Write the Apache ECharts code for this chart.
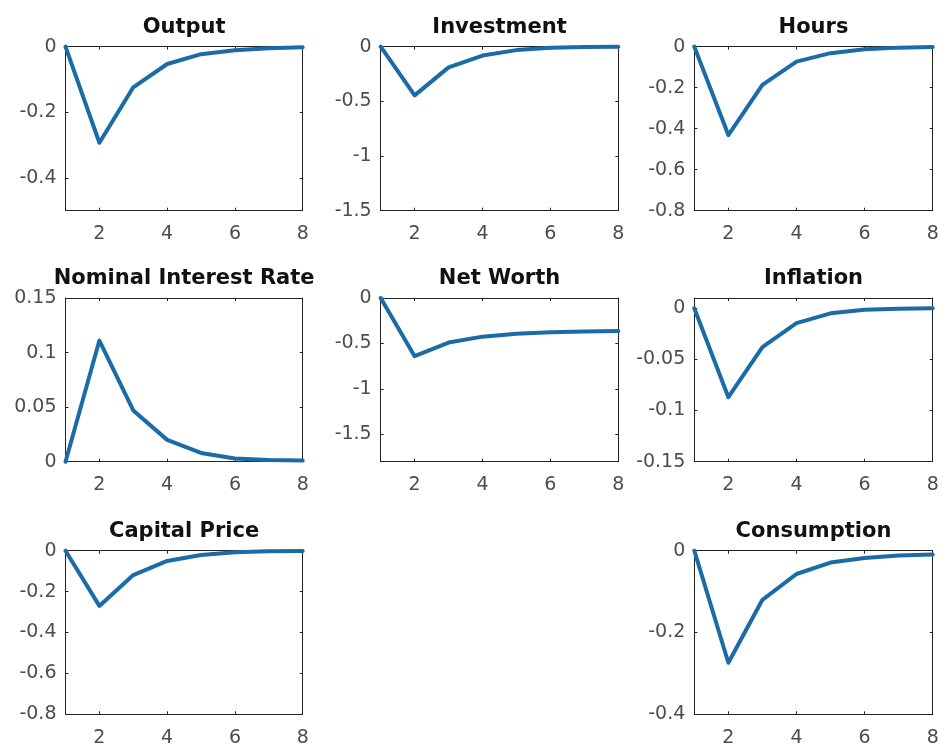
<!DOCTYPE html>
<html>
<head>
<meta charset="utf-8">
<script src="https://cdn.jsdelivr.net/npm/echarts@6/dist/echarts.min.js"></script>
<style>
  html, body { margin: 0; padding: 0; background: #ffffff; }
  #chart { width: 943px; height: 750px; }
</style>
</head>
<body>
<div id="chart"></div>
<script>
// Impulse responses, periods 1..8
const periods = [1, 2, 3, 4, 5, 6, 7, 8];

const output       = [0, -0.293, -0.124, -0.053, -0.023, -0.011, -0.005, -0.002];
const investment   = [0, -0.446, -0.19, -0.082, -0.032, -0.011, -0.004, -0.001];
const hours        = [0, -0.431, -0.187, -0.073, -0.032, -0.013, -0.005, -0.002];
const interestRate = [0, 0.111, 0.047, 0.020, 0.008, 0.003, 0.0015, 0.001];
const netWorth     = [0, -0.64, -0.49, -0.425, -0.393, -0.377, -0.367, -0.362];
const inflation    = [0, -0.087, -0.038, -0.0145, -0.005, -0.0015, -0.0005, 0];
const capitalPrice = [0, -0.27, -0.119, -0.05, -0.021, -0.008, -0.003, -0.001];
const consumption  = [0, -0.274, -0.12, -0.057, -0.029, -0.018, -0.012, -0.009];

// Tick labels
const xTicks = [2, 4, 6, 8];
const outputTicks     = [-0.4, -0.2, 0];
const investmentTicks = [-1.5, -1, -0.5, 0];
const hoursTicks      = [-0.8, -0.6, -0.4, -0.2, 0];
const rateTicks       = [0, 0.05, 0.1, 0.15];
const netWorthTicks   = [-1.5, -1, -0.5, 0];
const inflationTicks  = [-0.15, -0.1, -0.05, 0];
const capPriceTicks   = [-0.8, -0.6, -0.4, -0.2, 0];
const consumpTicks    = [-0.4, -0.2, 0];

// Panel definitions: title, series, y range, y ticks, column, row
const panels = [
  { title: 'Output', data: output, ymin: -0.5, ymax: 0, ticks: outputTicks, col: 0, row: 0 },
  { title: 'Investment', data: investment, ymin: -1.5, ymax: 0, ticks: investmentTicks, col: 1, row: 0 },
  { title: 'Hours', data: hours, ymin: -0.8, ymax: 0, ticks: hoursTicks, col: 2, row: 0 },
  { title: 'Nominal Interest Rate', data: interestRate, ymin: 0, ymax: 0.15, ticks: rateTicks, col: 0, row: 1 },
  { title: 'Net Worth', data: netWorth, ymin: -1.8, ymax: 0, ticks: netWorthTicks, col: 1, row: 1 },
  { title: 'Inflation', data: inflation, ymin: -0.15, ymax: 0.01, ticks: inflationTicks, col: 2, row: 1 },
  { title: 'Capital Price', data: capitalPrice, ymin: -0.8, ymax: 0, ticks: capPriceTicks, col: 0, row: 2 },
  { title: 'Consumption', data: consumption, ymin: -0.4, ymax: 0, ticks: consumpTicks, col: 2, row: 2 }
];

// Layout of the 3x3 grid of axes boxes
const colLeft = [65.5, 380.7, 694.3];
const colWidth = [237.2, 237.6, 238.4];
const rowTop = [46.6, 298, 550.7];
const rowHeight = [164.1, 163.7, 163.6];

const lineColor = '#1b6ba6';
const boxColor = '#222222';
const labelColor = '#4d4d4d';
const fontFamily = '"DejaVu Sans", Arial, sans-serif';

const option = {
  backgroundColor: '#ffffff',
  animation: false,
  title: [], grid: [], xAxis: [], yAxis: [], series: []
};

panels.forEach((p, i) => {
  const left = colLeft[p.col], top = rowTop[p.row];
  const w = colWidth[p.col], h = rowHeight[p.row];

  option.title.push({
    text: p.title,
    left: left + w / 2,
    top: top - 30,
    textAlign: 'center',
    padding: 0,
    textStyle: { fontFamily, fontSize: 21, fontWeight: 'bold', color: '#111111' }
  });

  option.grid.push({ left, top, width: w, height: h, show: false });

  const lineStyle = { color: boxColor, width: 1 };
  const tick = (vals) => ({ show: true, inside: true, length: 3, customValues: vals, lineStyle: { color: boxColor } });

  // bottom / top x axes (box frame with inward ticks)
  option.xAxis.push({
    type: 'value', gridIndex: i, position: 'bottom', min: 1, max: 8,
    axisLine: { show: true, onZero: false, lineStyle },
    axisTick: tick(xTicks),
    axisLabel: { show: true, customValues: xTicks, margin: 14, color: labelColor, fontFamily, fontSize: 19 },
    splitLine: { show: false }
  });
  option.xAxis.push({
    type: 'value', gridIndex: i, position: 'top', min: 1, max: 8,
    axisLine: { show: true, onZero: false, lineStyle },
    axisTick: tick(xTicks),
    axisLabel: { show: false },
    splitLine: { show: false }
  });
  // left / right y axes
  option.yAxis.push({
    type: 'value', gridIndex: i, position: 'left', min: p.ymin, max: p.ymax,
    axisLine: { show: true, onZero: false, lineStyle },
    axisTick: tick(p.ticks),
    axisLabel: { show: true, customValues: p.ticks, margin: 9, color: labelColor, fontFamily, fontSize: 19 },
    splitLine: { show: false }
  });
  option.yAxis.push({
    type: 'value', gridIndex: i, position: 'right', min: p.ymin, max: p.ymax,
    axisLine: { show: true, onZero: false, lineStyle },
    axisTick: tick(p.ticks),
    axisLabel: { show: false },
    splitLine: { show: false }
  });

  option.series.push({
    type: 'line',
    xAxisIndex: 2 * i,
    yAxisIndex: 2 * i,
    data: periods.map((t, k) => [t, p.data[k]]),
    symbol: 'none',
    clip: false,
    lineStyle: { color: lineColor, width: 4, join: 'round', cap: 'round' }
  });
});

const chart = echarts.init(document.getElementById('chart'), null, { renderer: 'canvas' });
chart.setOption(option);
</script>
</body>
</html>
